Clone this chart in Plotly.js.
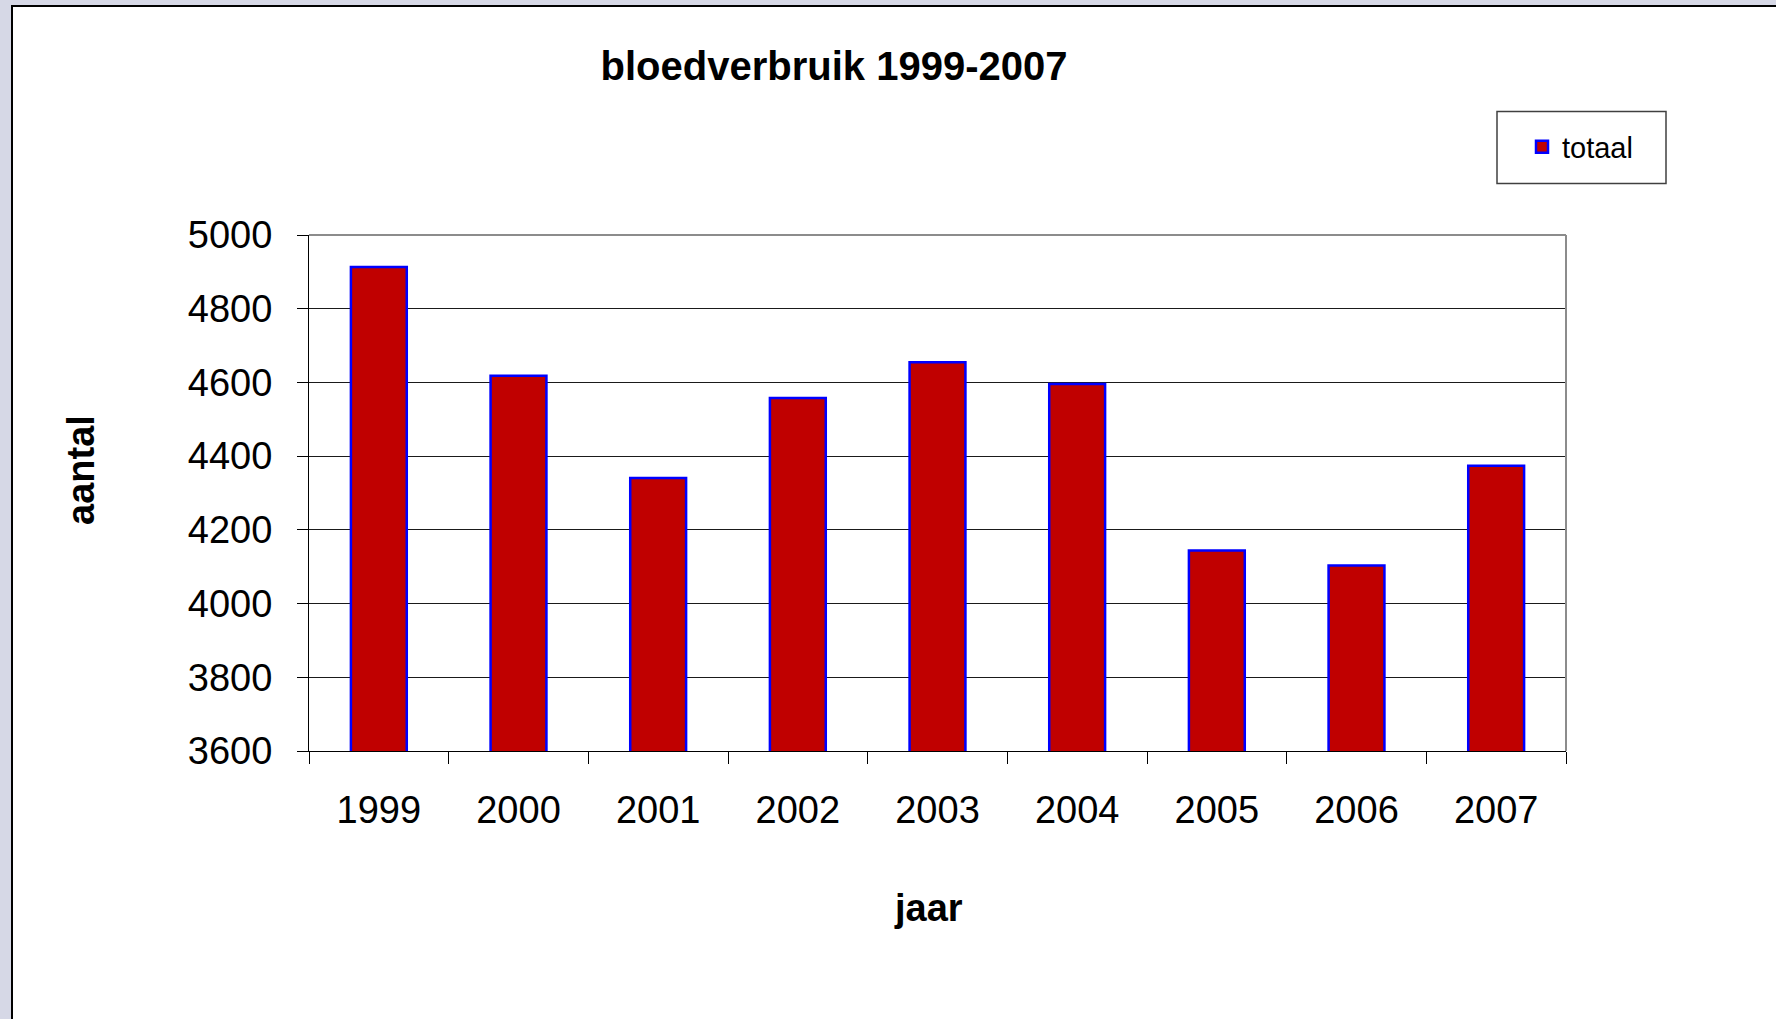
<!DOCTYPE html>
<html>
<head>
<meta charset="utf-8">
<script src="https://cdn.plot.ly/plotly-3.0.1.min.js"></script>
<style>html,body{margin:0;padding:0;background:#d6d8e6;}#chart{width:1776px;height:1019px;}</style>
</head>
<body>
<div id="chart"></div>
<script>
// ---- data ----
var years = ['1999', '2000', '2001', '2002', '2003', '2004', '2005', '2006', '2007'];
var totaal = [4913, 4618, 4341, 4558, 4655, 4596, 4144, 4103, 4374];
var yTicks = [3600, 3800, 4000, 4200, 4400, 4600, 4800, 5000];
var seriesName = 'totaal';
var chartTitle = 'bloedverbruik 1999-2007';
var xTitle = 'jaar';
var yTitle = 'aantal';

// ---- geometry helpers (pixel -> paper) ----
var W = 1776, H = 1019;
var mL = 309, mR = 210, mT = 235, mB = 268;
var pw = W - mL - mR, ph = H - mT - mB;
function xp(px) { return (px - mL) / pw; }
function yp(py) { return (H - mB - py) / ph; }

var font = 'Liberation Sans, Arial, sans-serif';

var trace = {
  type: 'bar',
  x: years,
  y: totaal,
  name: seriesName,
  marker: { color: '#c00000', line: { color: '#0000ff', width: 2.5 } },
  hoverinfo: 'x+y'
};

var layout = {
  width: W, height: H,
  margin: { l: mL, r: mR, t: mT, b: mB, pad: 0 },
  paper_bgcolor: '#d6d8e6',
  plot_bgcolor: '#ffffff',
  bargap: 0.6,
  showlegend: true,
  title: {
    text: chartTitle,
    font: { family: font, size: 40, color: '#000000', weight: 'bold' },
    x: 834 / W, xanchor: 'center', xref: 'container',
    y: 1 - 66 / H, yanchor: 'middle', yref: 'container'
  },
  xaxis: {
    type: 'category',
    showline: true, linecolor: '#000000', linewidth: 1,
    ticks: 'outside', tickson: 'boundaries', ticklen: 12, tickcolor: '#000000', tickwidth: 1,
    tickfont: { family: font, size: 38, color: '#000000' },
    ticklabelstandoff: 25,
    showgrid: false, zeroline: false, fixedrange: true
  },
  yaxis: {
    range: [3600, 5000],
    tickvals: yTicks,
    ticktext: yTicks.map(String),
    showline: true, linecolor: '#000000', linewidth: 1,
    ticks: 'outside', ticklen: 11, tickcolor: '#000000', tickwidth: 1,
    tickfont: { family: font, size: 38, color: '#000000' },
    ticklabelstandoff: 17,
    showgrid: true, gridcolor: '#1a1a1a', gridwidth: 1,
    zeroline: false, fixedrange: true
  },
  legend: {
    x: xp(1522), xanchor: 'left',
    y: yp(147), yanchor: 'middle',
    bgcolor: 'rgba(0,0,0,0)', borderwidth: 0,
    font: { family: font, size: 29, color: '#000000' }
  },
  annotations: [
    {
      text: yTitle, xref: 'paper', yref: 'paper',
      x: xp(81), y: yp(470), xanchor: 'center', yanchor: 'middle',
      textangle: -90, showarrow: false,
      font: { family: font, size: 38, color: '#000000', weight: 'bold' }
    },
    {
      text: xTitle, xref: 'paper', yref: 'paper',
      x: xp(928), y: yp(908), xanchor: 'center', yanchor: 'middle',
      showarrow: false,
      font: { family: font, size: 38, color: '#000000', weight: 'bold' }
    }
  ],
  shapes: [
    // white chart area with black frame
    { type: 'rect', xref: 'paper', yref: 'paper', layer: 'below',
      x0: xp(12), y0: yp(6), x1: xp(1900), y1: yp(1100),
      fillcolor: '#ffffff', line: { color: '#000000', width: 2 } },
    // gray top and right plot border
    { type: 'line', xref: 'paper', yref: 'paper', x0: 0, y0: 1, x1: 1, y1: 1,
      line: { color: '#8c8c8c', width: 2 } },
    { type: 'line', xref: 'paper', yref: 'paper', x0: 1, y0: 0, x1: 1, y1: 1,
      line: { color: '#8c8c8c', width: 2 } },
    // legend box
    { type: 'rect', xref: 'paper', yref: 'paper',
      x0: xp(1497), y0: yp(111.5), x1: xp(1666), y1: yp(183.5),
      fillcolor: 'rgba(0,0,0,0)', line: { color: '#404040', width: 1.5 } }
  ]
};

Plotly.newPlot('chart', [trace], layout, { displayModeBar: false, staticPlot: true });
</script>
</body>
</html>
